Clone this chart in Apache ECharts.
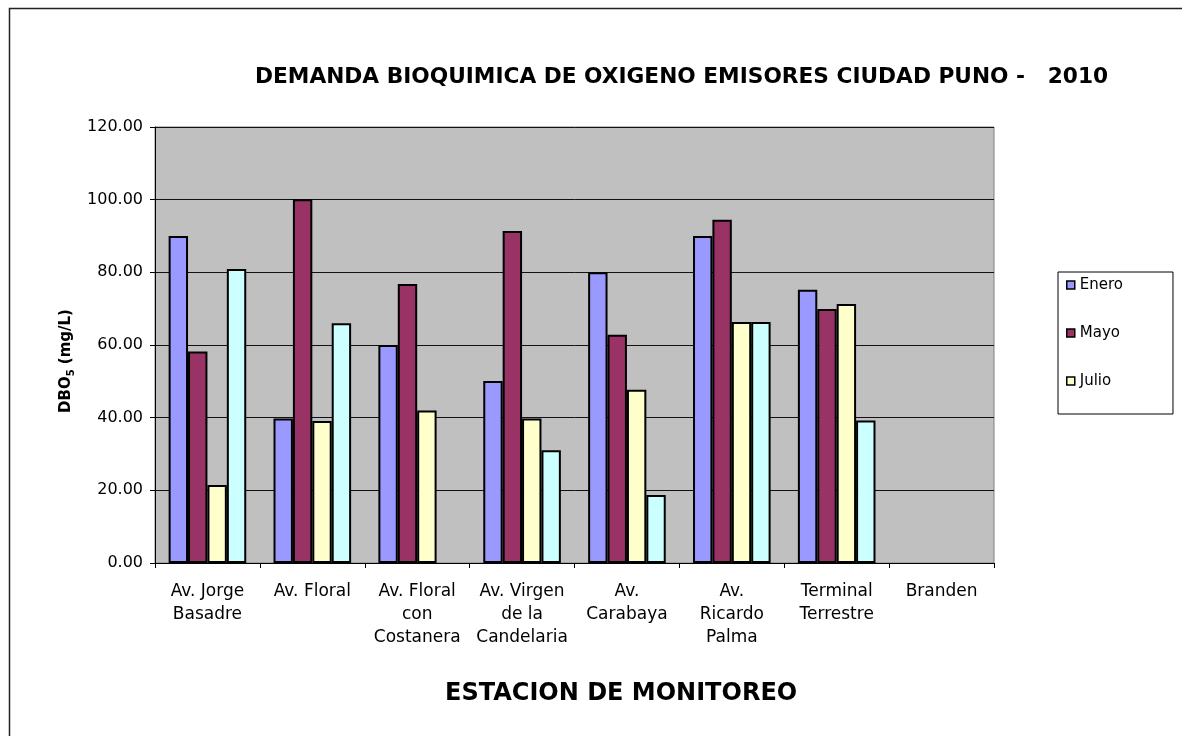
<!DOCTYPE html>
<html>
<head>
<meta charset="utf-8">
<script src="https://cdn.jsdelivr.net/npm/echarts@6/dist/echarts.min.js"></script>
<style>
html,body{margin:0;padding:0;background:#fff;}
#chart{width:1182px;height:736px;}
</style>
</head>
<body>
<div id="chart"></div>
<script>
var categories = ['Av. Jorge\nBasadre', 'Av. Floral', 'Av. Floral\ncon\nCostanera', 'Av. Virgen\nde la\nCandelaria', 'Av.\nCarabaya', 'Av.\nRicardo\nPalma', 'Terminal\nTerrestre', 'Branden'];
var enero  = [90.0, 39.8, 60.0, 50.1, 80.0, 90.0, 75.2, null];
var mayo   = [58.2, 100.1, 76.8, 91.4, 62.8, 94.5, 69.9, null];
var julio  = [21.5, 39.1, 42.0, 39.8, 47.7, 66.3, 71.3, null];
var serie4 = [80.9, 66.0, null, 31.0, 18.7, 66.3, 39.2, null];
var seriesNames = ['Enero', 'Mayo', 'Julio', 'Serie 4'];
var legendNames = ['Enero', 'Mayo', 'Julio'];
var yTicks = [0, 20, 40, 60, 80, 100, 120];
var titleText = 'DEMANDA BIOQUIMICA DE OXIGENO EMISORES CIUDAD PUNO -   2010';
var xTitle = 'ESTACION DE MONITOREO';

var colors = ['#9999ff', '#993366', '#ffffcc', '#ccffff'];
var FONT = '"DejaVu Sans", "Liberation Sans", Arial, sans-serif';
var chart = echarts.init(document.getElementById('chart'), null, {renderer: 'canvas'});

function bar(name, data, color) {
  return {
    name: name, type: 'bar', data: data,
    barGap: '0%', barCategoryGap: '26%',
    itemStyle: {color: color, borderColor: '#000', borderWidth: 2},
    emphasis: {disabled: true}
  };
}

var option = {
  animation: false,
  backgroundColor: '#ffffff',
  title: [
    {text: titleText, left: 250, top: 59,
     textStyle: {fontFamily: FONT, fontWeight: 'bold', fontSize: 21.7, color: '#000', lineHeight: 26}},
    {text: xTitle, left: 440, top: 675,
     textStyle: {fontFamily: FONT, fontWeight: 'bold', fontSize: 24, color: '#000', lineHeight: 28}}
  ],
  legend: {
    data: legendNames, orient: 'vertical', left: 1058, top: 272,
    padding: [5, 50, 25, 8], itemGap: 32, itemWidth: 8, itemHeight: 8,
    icon: 'rect', borderColor: '#000', borderWidth: 1, backgroundColor: '#fff',
    selectedMode: false,
    textStyle: {fontFamily: FONT, fontSize: 15, color: '#000', lineHeight: 16},
    itemStyle: {borderColor: '#000', borderWidth: 1.5}
  },
  grid: {left: 155, right: 188, top: 127, bottom: 173, show: true,
         backgroundColor: '#c0c0c0', borderColor: '#808080', borderWidth: 1},
  xAxis: {
    type: 'category', data: categories, boundaryGap: true,
    axisLine: {lineStyle: {color: '#000', width: 1}},
    axisTick: {show: true, interval: 0, length: 5, lineStyle: {color: '#000'}},
    axisLabel: {interval: 0, margin: 17, fontFamily: FONT, fontSize: 17, color: '#000', lineHeight: 23}
  },
  yAxis: {
    type: 'value', min: yTicks[0], max: yTicks[yTicks.length - 1], interval: 20,
    axisLine: {show: true, lineStyle: {color: '#000', width: 1}},
    axisTick: {show: true, length: 5, lineStyle: {color: '#000'}},
    axisLabel: {margin: 12, fontFamily: FONT, fontSize: 16, color: '#000',
                formatter: function (v) { return v.toFixed(2); }},
    splitLine: {show: true, lineStyle: {color: '#111', width: 1}}
  },
  graphic: [
    {type: 'rect', shape: {x: 9.5, y: 8.5, width: 1300, height: 900}, silent: true,
     style: {fill: null, stroke: '#222', lineWidth: 1.5}, z: 100},
    {type: 'text', x: 66, y: 361, rotation: Math.PI / 2, silent: true,
     style: {text: '{a|DBO}{s|5}{a| (mg/L)}', align: 'center', verticalAlign: 'middle',
       rich: {
         a: {fontFamily: FONT, fontWeight: 'bold', fontSize: 15, fill: '#000', lineHeight: 20},
         s: {fontFamily: FONT, fontWeight: 'bold', fontSize: 10, fill: '#000', lineHeight: 12, verticalAlign: 'bottom'}
       }}}
  ],
  series: [
    bar(seriesNames[0], enero, colors[0]),
    bar(seriesNames[1], mayo, colors[1]),
    bar(seriesNames[2], julio, colors[2]),
    bar(seriesNames[3], serie4, colors[3])
  ]
};
chart.setOption(option);
</script>
</body>
</html>
